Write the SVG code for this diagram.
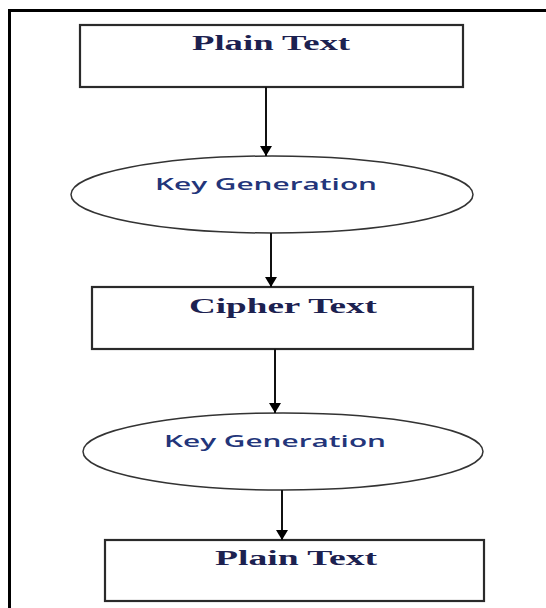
<svg xmlns="http://www.w3.org/2000/svg" width="546" height="608" viewBox="0 0 546 608">
  <defs>
    <marker id="arrowhead" markerWidth="10" markerHeight="12" refX="10" refY="6" orient="auto" markerUnits="userSpaceOnUse" viewBox="0 0 10 12">
      <path d="M0,0 L10,6 L0,12 Z" fill="#000"/>
    </marker>
    <style>
      .frame { stroke: #000; stroke-width: 3; fill: none; }
      .box { fill: #fff; stroke: #2a2a2a; stroke-width: 2.2; }
      .oval { fill: #fff; stroke: #333; stroke-width: 1.5; }
      .edge { stroke: #111; stroke-width: 2; fill: none; }
      .serif { font-family: "Liberation Serif", "Times New Roman", serif; font-size: 20px; font-weight: bold; fill: #1c2150; }
      .sans { font-family: "Open Sans", "Liberation Sans", sans-serif; font-size: 17px; font-weight: 600; fill: #23357a; }
    </style>
  </defs>

  <rect width="546" height="608" fill="#fff"/>

  <!-- page frame: top and left rules -->
  <path class="frame" d="M9.5,608 V10.5 H546"/>

  <g id="plain-text-in">
    <rect class="box" x="80" y="25" width="383" height="62"/>
    <text class="serif" x="271" y="50" text-anchor="middle" textLength="158" lengthAdjust="spacingAndGlyphs">Plain Text</text>
  </g>

  <g id="key-generation-1">
    <ellipse class="oval" cx="272" cy="194.5" rx="201" ry="38.5"/>
    <text class="sans" x="266" y="190" text-anchor="middle" textLength="222" lengthAdjust="spacingAndGlyphs">Key Generation</text>
  </g>

  <g id="cipher-text">
    <rect class="box" x="92" y="287" width="381" height="62"/>
    <text class="serif" x="283" y="313" text-anchor="middle" textLength="188" lengthAdjust="spacingAndGlyphs">Cipher Text</text>
  </g>

  <g id="key-generation-2">
    <ellipse class="oval" cx="283" cy="451.5" rx="200" ry="38.5"/>
    <text class="sans" x="275" y="447" text-anchor="middle" textLength="222" lengthAdjust="spacingAndGlyphs">Key Generation</text>
  </g>

  <g id="plain-text-out">
    <rect class="box" x="105" y="540" width="379" height="61"/>
    <text class="serif" x="296" y="565" text-anchor="middle" textLength="162" lengthAdjust="spacingAndGlyphs">Plain Text</text>
  </g>

  <g id="connectors">
    <line class="edge" x1="266" y1="87" x2="266" y2="156" marker-end="url(#arrowhead)"/>
    <line class="edge" x1="271" y1="233" x2="271" y2="287" marker-end="url(#arrowhead)"/>
    <line class="edge" x1="275" y1="349" x2="275" y2="413" marker-end="url(#arrowhead)"/>
    <line class="edge" x1="282" y1="490" x2="282" y2="540" marker-end="url(#arrowhead)"/>
  </g>
</svg>
